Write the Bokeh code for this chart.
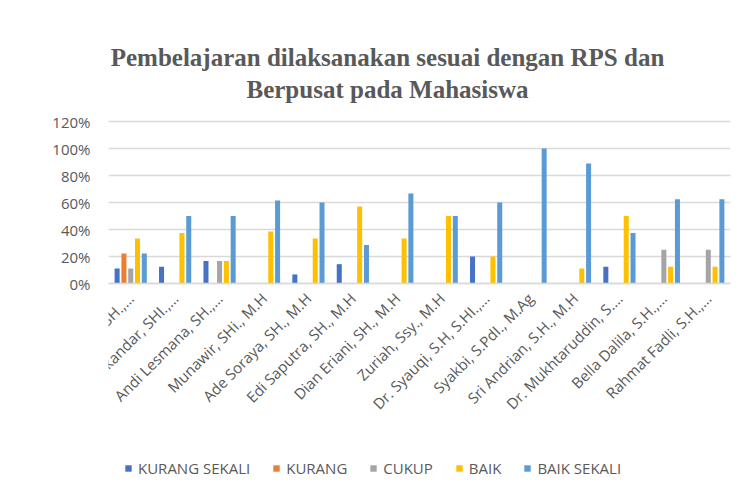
from math import pi
from bokeh.plotting import figure
from bokeh.models import (ColumnDataSource, FactorRange, Legend, LegendItem, Label,
                          FixedTicker, NumeralTickFormatter, Range1d)
from bokeh.transform import dodge
from bokeh.embed import file_html
from bokeh.resources import INLINE

title_line1 = "Pembelajaran dilaksanakan sesuai dengan RPS dan"
title_line2 = "Berpusat pada Mahasiswa"

lecturers = [
    "Dr. T. Rasyidin, SH.,…",
    "Syah Iskandar, SHI.,…",
    "Andi Lesmana, SH.,…",
    "Munawir, SHi., M.H",
    "Ade Soraya, SH., M.H",
    "Edi Saputra, SH., M.H",
    "Dian Eriani, SH., M.H",
    "Zuriah, Ssy., M.H",
    "Dr. Syauqi, S.H, S.HI.,…",
    "Syakbi, S.PdI., M.Ag",
    "Sri Andrian, S.H., M.H",
    "Dr. Mukhtaruddin, S.…",
    "Bella Dalila, S.H.,…",
    "Rahmat Fadli, S.H.,…",
]

series_names = ["KURANG SEKALI", "KURANG", "CUKUP", "BAIK", "BAIK SEKALI"]

kurang_sekali = [0.111, 0.125, 0.167, 0.0, 0.067, 0.143, 0.0, 0.0, 0.200, 0.0, 0.0, 0.125, 0.0, 0.0]
kurang        = [0.222, 0.0, 0.0, 0.0, 0.0, 0.0, 0.0, 0.0, 0.0, 0.0, 0.0, 0.0, 0.0, 0.0]
cukup         = [0.111, 0.0, 0.167, 0.0, 0.0, 0.0, 0.0, 0.0, 0.0, 0.0, 0.0, 0.0, 0.250, 0.250]
baik          = [0.333, 0.375, 0.167, 0.385, 0.333, 0.571, 0.333, 0.500, 0.200, 0.0, 0.111, 0.500, 0.125, 0.125]
baik_sekali   = [0.222, 0.500, 0.500, 0.615, 0.600, 0.286, 0.667, 0.500, 0.600, 1.000, 0.889, 0.375, 0.625, 0.625]

y_ticks = [0.0, 0.2, 0.4, 0.6, 0.8, 1.0, 1.2]

colors = ["#4472C4", "#ED7D31", "#A5A5A5", "#FFC000", "#5B9BD5"]
keys = ["ks", "k", "c", "b", "bs"]

source = ColumnDataSource(data=dict(
    lecturer=lecturers, ks=kurang_sekali, k=kurang, c=cukup, b=baik, bs=baik_sekali))

TXT = "#595959"
GRID = "#D9D9D9"

# layout geometry (pixels from the top of the canvas)
FRAME_TOP = 20
TOP_TICK = 121      # where the 120% gridline sits
ZERO = 283          # where the 0% line sits
FRAME_BOTTOM = 500
px_per_unit = (ZERO - TOP_TICK) / 1.2
y_start = -(FRAME_BOTTOM - ZERO) / px_per_unit
y_end = 1.2 + (TOP_TICK - FRAME_TOP) / px_per_unit

p = figure(x_range=FactorRange(*lecturers), y_range=Range1d(y_start, y_end), title=None,
           frame_width=622, frame_height=FRAME_BOTTOM - FRAME_TOP,
           output_backend="svg", toolbar_location=None,
           min_border_left=108, min_border_right=13, min_border_top=FRAME_TOP,
           min_border_bottom=0)
p.outline_line_color = None
p.background_fill_color = "white"

step = 0.153
bar_w = 0.113
renderers = []
for i, (key, col) in enumerate(zip(keys, colors)):
    r = p.vbar(x=dodge("lecturer", (i - 2) * step, range=p.x_range), top=key, bottom=0,
               width=bar_w, source=source, fill_color=col, line_color=None)
    renderers.append(r)

p.xgrid.grid_line_color = None
p.ygrid.grid_line_color = GRID
p.ygrid.grid_line_width = 1.5

p.yaxis.ticker = FixedTicker(ticks=y_ticks)
p.yaxis.formatter = NumeralTickFormatter(format="0%")
p.yaxis.axis_line_color = None
p.yaxis.major_tick_line_color = None
p.yaxis.minor_tick_line_color = None
p.yaxis.major_label_text_color = TXT
p.yaxis.major_label_text_font = "Open Sans"
p.yaxis.major_label_text_font_size = "15px"
p.yaxis.major_label_standoff = 12

p.xaxis.fixed_location = 0
p.xaxis.axis_line_color = GRID
p.xaxis.axis_line_width = 1.5
p.xaxis.major_tick_line_color = None
p.xaxis.minor_tick_line_color = None
p.xaxis.major_label_orientation = pi / 4
p.xaxis.major_label_text_color = TXT
p.xaxis.major_label_text_font = "Open Sans"
p.xaxis.major_label_text_font_size = "15px"
p.xaxis.major_label_standoff = 6

items = [LegendItem(label=n, renderers=[r]) for n, r in zip(series_names, renderers)]
legend = Legend(items=items, orientation="horizontal", location=(16, 22),
                border_line_color=None, background_fill_alpha=0,
                glyph_width=8, glyph_height=8, label_standoff=6, spacing=22,
                padding=0, margin=0, label_text_font="Open Sans",
                label_text_font_size="15px", label_text_color=TXT)
p.add_layout(legend, "center")

# title lines, centred at x=387 of the canvas (frame starts at 108)
for txt, baseline in [(title_line1, 57), (title_line2, 89)]:
    p.add_layout(Label(x=387 - 108, y=FRAME_BOTTOM - baseline,
                       x_units="screen", y_units="screen", text=txt,
                       text_align="center", text_baseline="alphabetic",
                       text_font="Liberation Serif", text_font_style="bold",
                       text_font_size="25px", text_color=TXT))

open("out.html", "w").write(file_html(p, INLINE))
